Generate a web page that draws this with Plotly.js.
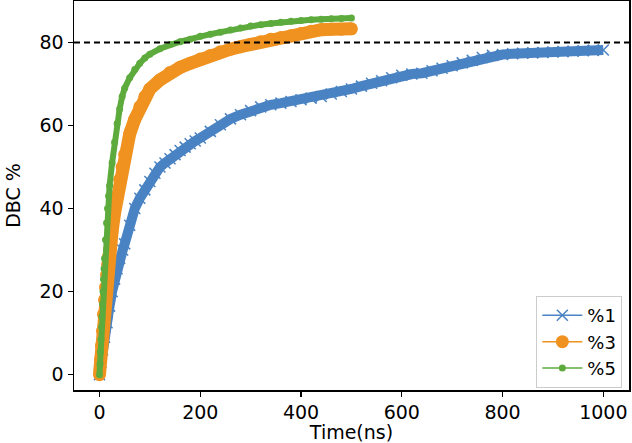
<!DOCTYPE html>
<html>
<head>
<meta charset="utf-8">
<script src="https://cdn.plot.ly/plotly-3.0.1.min.js"></script>
<style>
  html, body { margin: 0; padding: 0; background: #fff; }
  #chart { width: 632px; height: 443px; }
</style>
</head>
<body>
<div id="chart"></div>
<script>
// %1 series
const t1 = [0, 3, 6, 10, 15, 20, 25, 30, 35, 40, 46, 50, 60, 70, 80, 90, 100, 110, 120, 130, 140, 150,
  160, 170, 180, 190, 200, 220, 240, 260, 280, 300, 320, 340, 360, 380, 400, 420, 440, 460, 480, 500,
  520, 540, 560, 580, 600, 620, 640, 660, 680, 700, 720, 740, 760, 780, 800, 820, 840, 860, 880, 900,
  920, 940, 960, 980, 1000];
const dbc1 = [0, 3, 6, 9, 12.5, 16.5, 20, 23, 25.5, 28, 30, 31.5, 36, 40, 42.5, 44.5, 46.5, 48.5, 50, 51, 52, 53,
  54, 54.8, 55.6, 56.3, 57, 58.6, 60.2, 61.6, 62.6, 63.6, 64.5, 65, 65.4, 65.8, 66.2, 66.6, 67, 67.6, 68.2, 68.8,
  69.5, 70.2, 70.8, 71.5, 72.1, 72.4, 72.6, 73.2, 73.8, 74.4, 75.1, 75.7, 76.4, 76.9, 77.1, 77.3, 77.4, 77.5, 77.6, 77.7,
  77.8, 77.9, 78, 78.1, 78.2];

// %3 series
const t3 = [0, 2, 4, 6, 8, 10, 12, 14, 16, 18, 20, 25, 30, 35, 40, 45, 50, 60, 70, 80, 90, 100, 120, 140,
  160, 180, 200, 220, 240, 260, 280, 300, 320, 340, 360, 380, 400, 420, 440, 460, 480, 500];
const dbc3 = [0, 3.5, 7, 10.5, 14.5, 18, 21, 24, 26.5, 28.5, 30, 34.5, 39, 43, 47, 50, 53, 58, 61.5, 64.5, 67, 68.8, 71, 72.8,
  74, 75, 76, 76.9, 77.8, 78.4, 79, 79.6, 80.2, 80.8, 81.2, 81.6, 82.2, 82.7, 83.1, 83.2, 83.2, 83.3];

// %5 series
const t5 = [0, 1, 2, 3, 4, 5, 6, 7, 8, 9, 10, 12, 14, 16, 18, 20, 25, 30, 35, 40, 45, 50, 60, 70, 80, 90, 100,
  120, 140, 160, 180, 200, 220, 240, 260, 280, 300, 320, 340, 360, 380, 400, 420, 440, 460, 480, 500];
const dbc5 = [0, 2.5, 5.5, 8.5, 11.5, 14, 17, 20, 23, 25.5, 28, 32.5, 36.5, 40, 43, 45.5, 51, 56, 60.5, 64, 67, 69, 71.5, 73.5, 75, 76.3, 77.2,
  78.5, 79.5, 80.2, 80.8, 81.5, 82, 82.5, 83, 83.5, 84, 84.3, 84.6, 84.9, 85.1, 85.3, 85.5, 85.6, 85.7, 85.8, 85.9];

const names = ['%1', '%3', '%5'];
const threshold = 80;

const blue = '#4a83c3', orange = '#f0921f', green = '#5dab3d';
const font = 'DejaVu Sans, sans-serif';

// thick band under the markers (dense points in the original)
function band(x, y, color, w) {
  return { x, y, type: 'scatter', mode: 'lines', showlegend: false,
    line: { color, width: w, shape: 'linear' }, hoverinfo: 'skip' };
}

const traces = [
  band(t1, dbc1, blue, 10),
  { x: t1, y: dbc1, name: names[0], type: 'scatter', mode: 'lines+markers',
    line: { color: blue, width: 1.5 },
    marker: { symbol: 'x-thin', size: 11, color: blue, line: { color: blue, width: 1.5 } } },
  band(t3, dbc3, orange, 13),
  { x: t3, y: dbc3, name: names[1], type: 'scatter', mode: 'lines+markers',
    line: { color: orange, width: 1.5 },
    marker: { symbol: 'circle', size: 13, color: orange } },
  band(t5, dbc5, green, 6),
  { x: t5, y: dbc5, name: names[2], type: 'scatter', mode: 'lines+markers',
    line: { color: green, width: 1.5 },
    marker: { symbol: 'circle', size: 7, color: green } }
];

const axisCommon = {
  showline: true, mirror: true, linecolor: 'black', linewidth: 1.5,
  ticks: 'outside', ticklen: 5, tickwidth: 1.2, tickcolor: 'black',
  showgrid: false, zeroline: false,
  tickfont: { family: font, size: 19, color: 'black' }
};

const layout = {
  width: 632, height: 443,
  margin: { l: 74, r: 3, t: 1, b: 53 },
  paper_bgcolor: 'white', plot_bgcolor: 'white',
  font: { family: font, color: 'black' },
  xaxis: Object.assign({}, axisCommon, {
    range: [-50.6, 1051], tickvals: [0, 200, 400, 600, 800, 1000],
    title: { text: 'Time(ns)', font: { family: font, size: 19 }, standoff: 0 }
  }),
  yaxis: Object.assign({}, axisCommon, {
    range: [-3.7, 90], tickvals: [0, 20, 40, 60, 80],
    title: { text: 'DBC %', font: { family: font, size: 19 }, standoff: 14 }
  }),
  shapes: [
    { type: 'line', xref: 'paper', yref: 'y', x0: 0, x1: 1, y0: threshold, y1: threshold,
      line: { color: 'black', width: 2, dash: '6px,4px' } }
  ],
  legend: {
    x: 0.988, y: 0.005, xanchor: 'right', yanchor: 'bottom',
    bgcolor: 'rgba(255,255,255,0.8)', bordercolor: '#cccccc', borderwidth: 1,
    font: { family: font, size: 18, color: 'black' },
    itemwidth: 40, tracegroupgap: 0
  },
  showlegend: true
};

Plotly.newPlot('chart', traces, layout, { staticPlot: true, displayModeBar: false });
</script>
</body>
</html>
